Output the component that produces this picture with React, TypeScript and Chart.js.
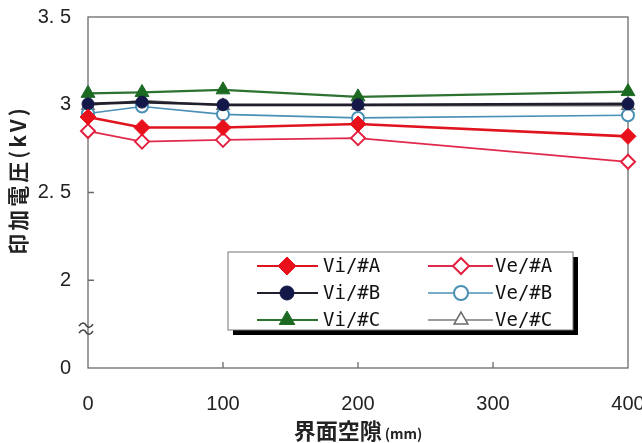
import React, { useEffect, useRef } from "react";
import { Chart, registerables } from "chart.js";
import { drawPoint } from "chart.js/helpers";

Chart.register(...registerables);

const gapMm = [0, 40, 100, 200, 400];
const viA = [2.93, 2.87, 2.87, 2.89, 2.82];
const veA = [2.85, 2.79, 2.8, 2.81, 2.675];
const viB = [3.005, 3.015, 3.0, 3.0, 3.005];
const veB = [2.95, 2.99, 2.945, 2.925, 2.94];
const viC = [3.065, 3.07, 3.085, 3.045, 3.075];
const veC = [2.995, 3.025, 2.995, 2.995, 2.995];
const seriesLabels = ["Vi/#A", "Ve/#A", "Vi/#B", "Ve/#B", "Vi/#C", "Ve/#C"];
const xTickValues = [0, 100, 200, 300, 400];
const yTickValues = [1.5, 2, 2.5, 3, 3.5];
const yTickLabels = ["0", "2", "2. 5", "3", "3. 5"];
const xTitleMain = "界面空隙";
const xTitleUnit = "(mm)";
const yTitleText = "印加電圧(kV)";

const CJK = '"Noto Sans CJK JP", "Noto Sans", sans-serif';
const NUM = '"Liberation Sans", Arial, sans-serif';

const pts = (ys: number[]) => ys.map((y, i) => ({ x: gapMm[i], y }));

const decorPlugin = {
  id: "decor",
  beforeDatasetsDraw(chart: any) {
    const { ctx, chartArea: a, scales } = chart;
    ctx.save();
    ctx.strokeStyle = "#6a6a6a";
    ctx.lineWidth = 1.3;
    ctx.strokeRect(a.left, a.top, a.right - a.left, a.bottom - a.top);
    ctx.beginPath();
    xTickValues.forEach((v) => {
      const px = scales.x.getPixelForValue(v);
      if (px > a.left + 2 && px < a.right - 2) {
        ctx.moveTo(px, a.bottom);
        ctx.lineTo(px, a.bottom - 6);
      }
    });
    yTickValues.forEach((v) => {
      const py = scales.y.getPixelForValue(v);
      if (py > a.top + 2 && py < a.bottom - 2) {
        ctx.moveTo(a.left, py);
        ctx.lineTo(a.left + 6, py);
      }
    });
    ctx.stroke();
    const bx = a.left - 2;
    const by = (scales.y.getPixelForValue(1.5) + scales.y.getPixelForValue(2)) / 2 + 5;
    ctx.strokeStyle = "#444";
    ctx.lineWidth = 1.6;
    [-4, 3].forEach((dy) => {
      const y0 = by + dy;
      ctx.beginPath();
      ctx.moveTo(bx - 7, y0 + 1);
      ctx.bezierCurveTo(bx - 4, y0 - 4, bx - 1, y0 - 2, bx, y0);
      ctx.bezierCurveTo(bx + 1, y0 + 2, bx + 4, y0 + 4, bx + 7, y0 - 1);
      ctx.stroke();
    });
    ctx.restore();
  },
  afterDraw(chart: any) {
    const { ctx, chartArea: a } = chart;
    ctx.save();
    ctx.fillStyle = "#222";
    ctx.textBaseline = "middle";
    ctx.font = `bold 22px ${CJK}`;
    const wMain = ctx.measureText(xTitleMain).width;
    ctx.font = `bold 14px ${CJK}`;
    const wUnit = ctx.measureText(xTitleUnit).width;
    const cx = (a.left + a.right) / 2;
    const x0 = cx - (wMain + wUnit + 3) / 2;
    ctx.textAlign = "left";
    ctx.font = `bold 22px ${CJK}`;
    ctx.fillText(xTitleMain, x0, 431);
    ctx.font = `bold 14px ${CJK}`;
    ctx.fillText(xTitleUnit, x0 + wMain + 3, 434);

    ctx.translate(18, 180);
    ctx.rotate(-Math.PI / 2);
    ctx.textAlign = "center";
    ctx.font = `bold 21px ${CJK}`;
    (ctx as any).letterSpacing = "3px";
    ctx.fillText(yTitleText, 0, 0);
    (ctx as any).letterSpacing = "0px";
    ctx.setTransform(1, 0, 0, 1, 0, 0);

    const L = 228, T = 252, W = 345, H = 78;
    ctx.fillStyle = "#000";
    ctx.fillRect(L + 5, T + 5, W, H);
    ctx.fillStyle = "#fff";
    ctx.fillRect(L, T, W, H);
    ctx.strokeStyle = "#777";
    ctx.lineWidth = 1;
    ctx.strokeRect(L, T, W, H);
    const rows = [266, 293, 320];
    const cols = [
      { x1: 257, x2: 318, m: 287, t: 323 },
      { x1: 428, x2: 493, m: 461, t: 495 },
    ];
    chart.data.datasets.forEach((ds: any, i: number) => {
      const c = cols[i % 2];
      const y = rows[Math.floor(i / 2)];
      ctx.strokeStyle = ds.borderColor;
      ctx.lineWidth = Math.min(ds.borderWidth, 2);
      ctx.beginPath();
      ctx.moveTo(c.x1, y);
      ctx.lineTo(c.x2, y);
      ctx.stroke();
      ctx.fillStyle = ds.pointBackgroundColor;
      ctx.strokeStyle = ds.pointBorderColor;
      ctx.lineWidth = ds.pointBorderWidth;
      drawPoint(ctx, { pointStyle: ds.pointStyle, rotation: 0, borderWidth: ds.pointBorderWidth, radius: ds.pointRadius + 1 } as any, c.m, y);
      ctx.fillStyle = "#111";
      ctx.font = `19px "DejaVu Sans Mono", monospace`;
      ctx.textAlign = "left";
      ctx.textBaseline = "middle";
      ctx.fillText(ds.label, c.t, y + 1);
    });
    ctx.restore();
  },
};

export default function App() {
  const ref = useRef<HTMLCanvasElement>(null);
  useEffect(() => {
    document.body.style.margin = "0";
    const mk = (label: string, data: number[], line: string, fill: string, border: string, style: string, r: number, lw: number, pbw: number) => ({
      label,
      data: pts(data),
      borderColor: line,
      borderWidth: lw,
      pointBackgroundColor: fill,
      pointBorderColor: border,
      pointBorderWidth: pbw,
      pointStyle: style,
      pointRadius: r,
      pointHoverRadius: r,
      tension: 0,
      clip: false,
    });
    const chart = new Chart(ref.current!, {
      type: "line",
      data: {
        datasets: [
          mk(seriesLabels[0], viA, "#e0141e", "#e8101a", "#e8101a", "rectRot", 8, 2.6, 1),
          mk(seriesLabels[1], veA, "#e02a4c", "#ffffff", "#e42040", "rectRot", 7, 1.8, 2),
          mk(seriesLabels[2], viB, "#20202c", "#141848", "#141848", "circle", 6, 2.6, 1),
          mk(seriesLabels[3], veB, "#4a8fb5", "#ffffff", "#4a8fb5", "circle", 6, 1.6, 2),
          mk(seriesLabels[4], viC, "#2e7232", "#1c6a22", "#1c6a22", "triangle", 8, 2.2, 1),
          mk(seriesLabels[5], veC, "#7a7a7a", "#ffffff", "#6a6a6a", "triangle", 7, 1.5, 1.5),
        ] as any,
      },
      options: {
        animation: false,
        responsive: false,
        maintainAspectRatio: false,
        layout: { padding: { top: 17, right: 14, left: 0, bottom: 0 } },
        plugins: { legend: { display: false }, tooltip: { enabled: false } },
        scales: {
          x: {
            type: "linear",
            min: 0,
            max: 400,
            afterBuildTicks: (s: any) => {
              s.ticks = xTickValues.map((v) => ({ value: v }));
            },
            afterFit: (s: any) => {
              s.height = 75;
              s.paddingLeft = 0;
              s.paddingRight = 0;
            },
            grid: { display: false, drawTicks: false },
            border: { display: false },
            ticks: { padding: 24, color: "#222", font: { family: NUM, size: 20 }, maxRotation: 0 },
          },
          y: {
            type: "linear",
            min: 1.5,
            max: 3.5,
            afterBuildTicks: (s: any) => {
              s.ticks = yTickValues.map((v) => ({ value: v }));
            },
            afterFit: (s: any) => {
              s.width = 88;
              s.paddingTop = 0;
              s.paddingBottom = 0;
            },
            grid: { display: false, drawTicks: false },
            border: { display: false },
            ticks: {
              padding: 17,
              color: "#222",
              font: { family: NUM, size: 20 },
              callback: (v: any) => {
                const i = yTickValues.indexOf(Number(v));
                return i >= 0 ? yTickLabels[i] : "";
              },
            },
          },
        },
      },
      plugins: [decorPlugin],
    });
    return () => chart.destroy();
  }, []);
  return <canvas ref={ref} width={642} height={443} style={{ display: "block" }} />;
}
